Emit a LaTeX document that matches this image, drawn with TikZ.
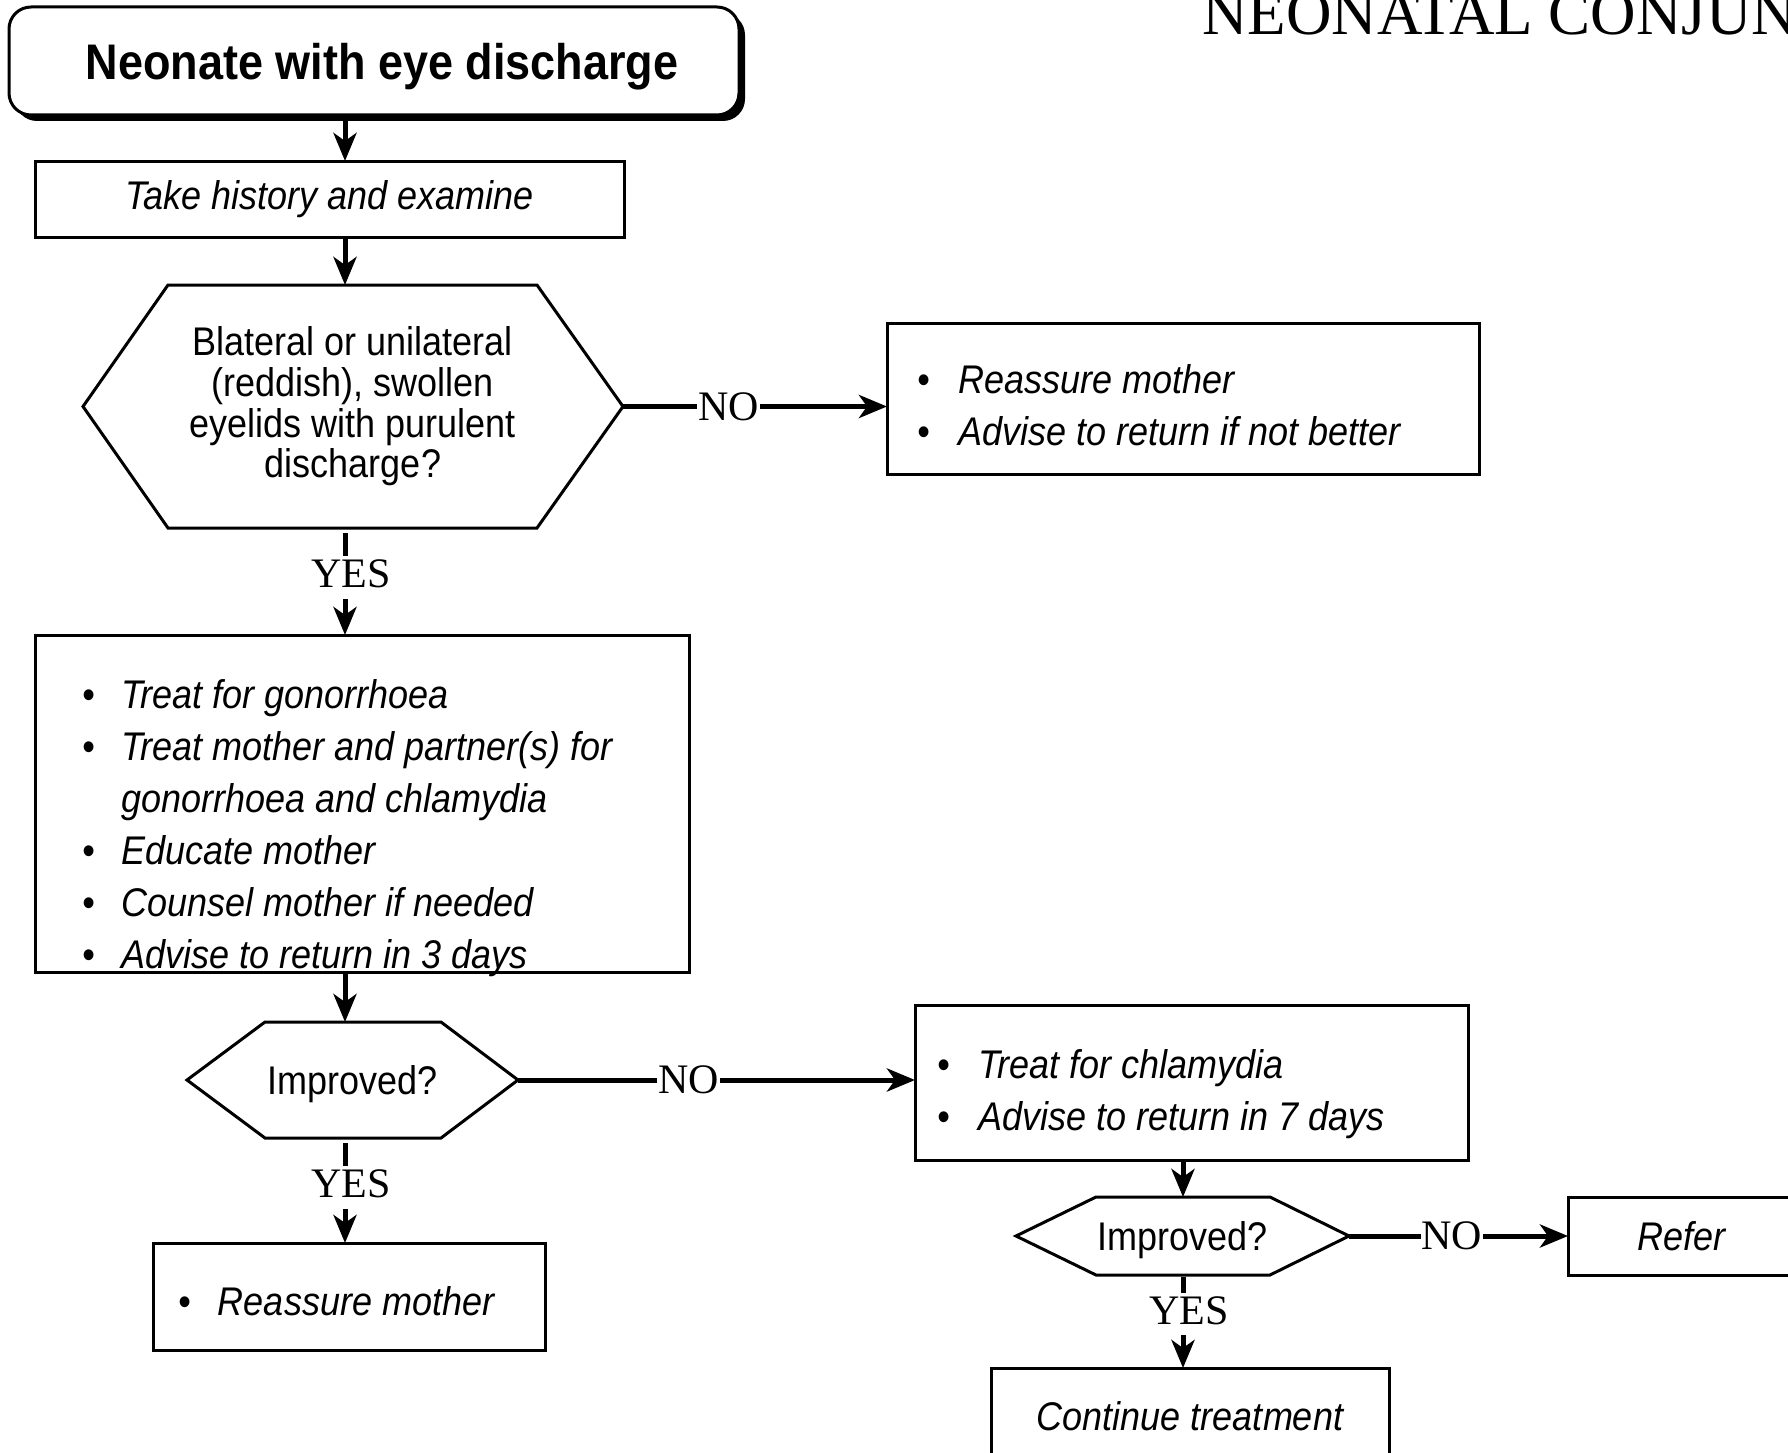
\documentclass[tikz,border=0pt]{standalone}
\usepackage{fontspec}
\setmainfont{Liberation Sans}[FakeStretch=0.9]
\newfontfamily\serifl{Liberation Serif}
\usetikzlibrary{arrows.meta,shadows,calc}
\newcommand\bl[1]{\makebox[#1pt][l]{•}}
\begin{document}
\begin{tikzpicture}[x=1pt,y=-1pt,
  boxn/.style={draw, line width=3pt, rectangle, inner sep=0pt, outer sep=0pt,
    font=\fontsize{40}{52}\selectfont\itshape},
  hexn/.style={inner sep=0pt, outer sep=0pt, align=center,
    font=\fontsize{40}{40.6}\selectfont},
  hexline/.style={draw, line width=3pt, line join=miter},
  arr/.style={line width=5pt, -{Stealth[length=28pt,width=23pt,inset=8pt]}},
  lab/.style={fill=white, inner xsep=1pt, inner ysep=4pt,
    font=\serifl\fontsize{42}{42}\selectfont},
  ylab/.style={lab, text depth=7pt, xshift=6pt},
  litem/.style={anchor=base west, inner sep=0pt,
    font=\fontsize{40}{52}\selectfont\itshape},
]
\useasboundingbox (0,0) rectangle (1788,1453);
\fill[white] (0,0) rectangle (1788,1453);
\clip (0,0) rectangle (1788,1453);

\coordinate (sp) at (345,0);
\coordinate (sp2) at (1183,0);

% heading
\node[anchor=base west, inner sep=0pt, font=\serifl\fontsize{63}{63}\selectfont] (head) at (1202,35) {NEONATAL CONJUNCTIVITIS};

% title
\node[boxn, minimum width=730pt, minimum height=108pt, rounded corners=22pt, fill=white,
  drop shadow={shadow xshift=6pt, shadow yshift=-6pt, fill=black, opacity=1},
  text depth=0pt,
  font=\fontsize{50}{60}\selectfont\bfseries] (title) at (374,61) {\hspace{16pt}Neonate with eye discharge};

% take history
\node[boxn, minimum width=589pt, minimum height=76pt] (tk) at (329.5,199) {Take history and examine\hspace{13pt}};

% hexagon 1
\node[hexn, minimum width=540pt, minimum height=243pt] (q1) at (353,406.5)
  {Blateral or unilateral\\(reddish), swollen\\eyelids with purulent\\discharge?};
\draw[hexline] (q1.west) -- ($(q1.north west)+(85,0)$) -- ($(q1.north east)+(-86,0)$) -- (q1.east)
  -- ($(q1.south east)+(-86,0)$) -- ($(q1.south west)+(85,0)$) -- cycle;

% reassure 1
\node[boxn, minimum width=592pt, minimum height=151pt] (r1) at (1183,398.5) {};
\node[litem] (r1a) at (917.7,393) {\bl{40.3}Reassure mother};
\node[litem] (r1b) at (917.7,445) {\bl{40.3}Advise to return if not better};

% big treatment box
\node[boxn, minimum width=654pt, minimum height=337pt] (tx) at (362,803.5) {};
\node[litem] (tx1) at (82.7,708) {\bl{38.3}Treat for gonorrhoea};
\node[litem] (tx2) at (82.7,760) {\bl{38.3}Treat mother and partner(s) for};
\node[litem] (tx3) at (121,812) {gonorrhoea and chlamydia};
\node[litem] (tx4) at (82.7,864) {\bl{38.3}Educate mother};
\node[litem] (tx5) at (82.7,916) {\bl{38.3}Counsel mother if needed};
\node[litem] (tx6) at (82.7,968) {\bl{38.3}Advise to return in 3 days};

% hexagon 2
\node[hexn, minimum width=331pt, minimum height=116pt, text depth=0pt] (q2) at (352.5,1080) {Improved?};
\draw[hexline] (q2.west) -- ($(q2.north west)+(78,0)$) -- ($(q2.north east)+(-77,0)$) -- (q2.east)
  -- ($(q2.south east)+(-77,0)$) -- ($(q2.south west)+(78,0)$) -- cycle;

% reassure 2
\node[boxn, minimum width=392pt, minimum height=107pt] (r2) at (349,1296.5) {};
\node[litem] (r2a) at (178.4,1315) {\bl{39.4}Reassure mother};

% chlamydia box
\node[boxn, minimum width=553pt, minimum height=155pt] (cb) at (1191.5,1082.5) {};
\node[litem] (cb1) at (937.7,1078) {\bl{40.7}Treat for chlamydia};
\node[litem] (cb2) at (937.7,1130) {\bl{40.7}Advise to return in 7 days};

% hexagon 3
\node[hexn, minimum width=333pt, minimum height=78pt, text depth=0pt] (q3) at (1182.5,1236) {Improved?};
\draw[hexline] (q3.west) -- ($(q3.north west)+(80,0)$) -- ($(q3.north east)+(-79,0)$) -- (q3.east)
  -- ($(q3.south east)+(-79,0)$) -- ($(q3.south west)+(80,0)$) -- cycle;

% refer / continue
\node[boxn, minimum width=227pt, minimum height=78pt] (rf) at (1681.5,1236) {Refer};
\node[boxn, minimum width=398pt, minimum height=97pt] (ct) at (1190,1416.5) {Continue treatment};

% connectors
\draw[arr] (title.south -| sp) -- (tk.north -| sp);
\draw[arr] (tk.south -| sp) -- (q1.north -| sp);
\draw[arr, shorten <=5pt] (q1.south -| sp) -- node[ylab, pos=0.46] {YES} (tx.north -| sp);
\draw[arr] (q1.east) -- node[lab, pos=0.40] {NO} (r1.west |- q1.east);
\draw[arr] (tx.south -| sp) -- (q2.north -| sp);
\draw[arr, shorten <=5pt] (q2.south -| sp) -- node[ylab, pos=0.47] {YES} (r2.north -| sp);
\draw[arr] (q2.east) -- node[lab, pos=0.43] {NO} (cb.west |- q2.east);
\draw[arr] (cb.south -| sp2) -- (q3.north -| sp2);
\draw[arr] (q3.east) -- node[lab, pos=0.47] {NO} (rf.west);
\draw[arr, shorten <=2pt] (q3.south -| sp2) -- node[ylab, pos=0.42] {YES} (ct.north -| sp2);
\end{tikzpicture}
\end{document}
